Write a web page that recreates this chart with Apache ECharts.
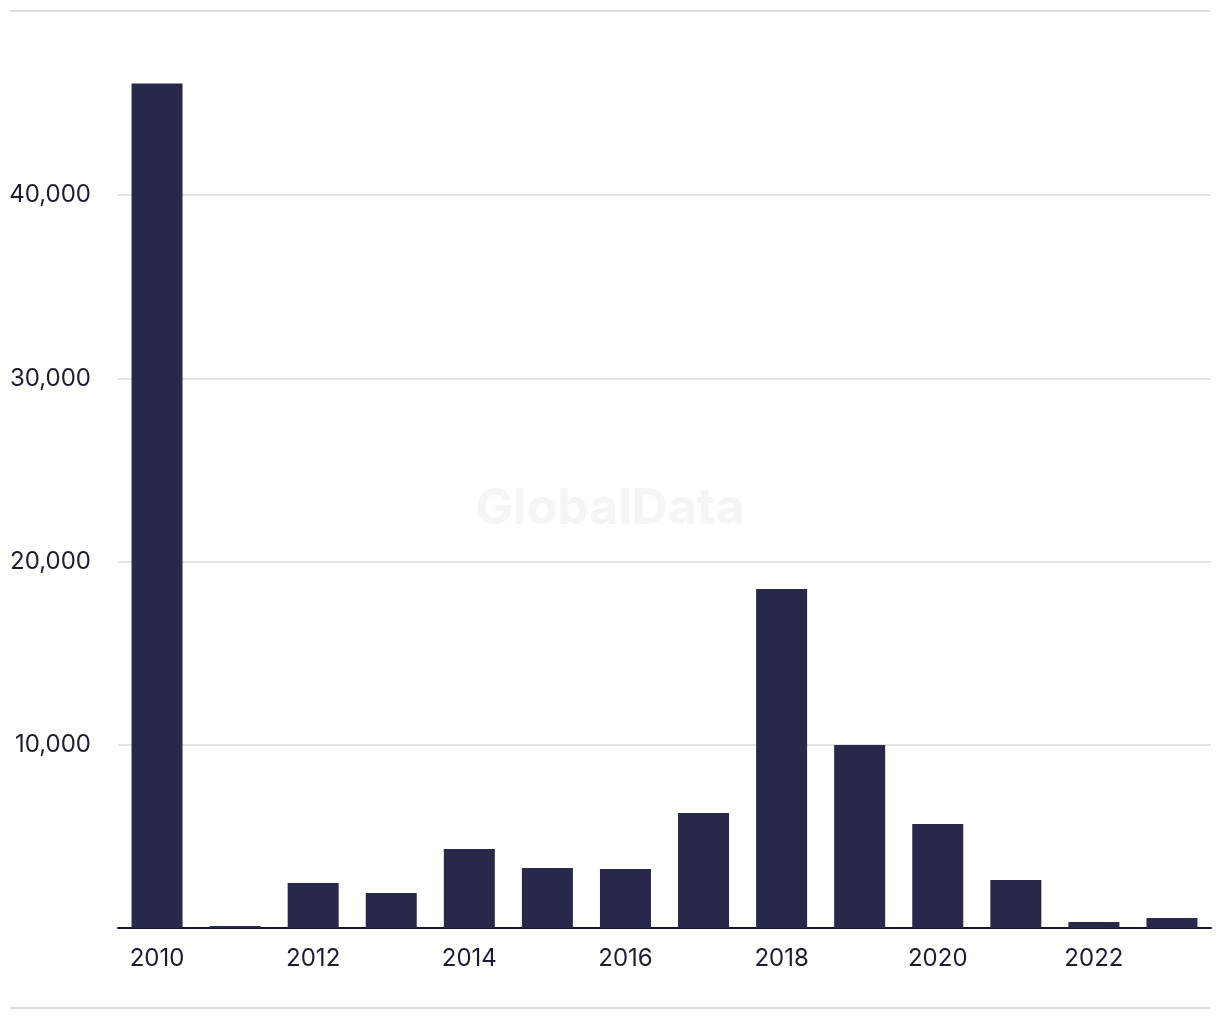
<!DOCTYPE html>
<html>
<head>
<meta charset="utf-8">
<script src="https://cdn.jsdelivr.net/npm/echarts@6/dist/echarts.min.js"></script>
<style>
html,body{margin:0;padding:0;background:#fff;}
#chart{width:1220px;height:1020px;}
</style>
</head>
<body>
<div id="chart"></div>
<script>
const years = ['2010','2011','2012','2013','2014','2015','2016','2017','2018','2019','2020','2021','2022','2023'];
const values = [46100, 110, 2460, 1910, 4310, 3280, 3220, 6280, 18510, 9990, 5680, 2620, 330, 550];
const yTicks = [0, 10000, 20000, 30000, 40000, 50000];

const chart = echarts.init(document.getElementById('chart'));
const textColor = '#1c1c33';
const grid = '#dcdcdc';
chart.setOption({
  animation: false,
  backgroundColor: '#ffffff',
  grid: { left: 118, right: 9, top: 12, bottom: 92, containLabel: false },
  graphic: {
    elements: [
      { type: 'text', id: 'wm', left: 'center', top: 484, z: -1, silent: true,
        style: { text: 'GlobalData', fontFamily: 'Inter', fontWeight: 'bold', fontSize: 50, fill: '#f5f5f5' } },
      { type: 'rect', id: 'bottomRule', z: 100, silent: true, shape: { x: 10, y: 1007, width: 1200, height: 2 }, style: { fill: grid } },
      { type: 'rect', id: 'topRule', z: 100, silent: true, shape: { x: 10, y: 10, width: 1200, height: 2 }, style: { fill: grid } }
    ]
  },
  xAxis: {
    type: 'category',
    data: years,
    axisLine: { show: true, lineStyle: { color: '#16162e', width: 2 } },
    axisTick: { show: false },
    axisLabel: { interval: 1, margin: 19, color: textColor, fontFamily: 'Inter', fontSize: 24 },
    splitLine: { show: false }
  },
  yAxis: {
    type: 'value',
    min: yTicks[0],
    max: yTicks[yTicks.length - 1],
    interval: yTicks[1] - yTicks[0],
    axisLine: { show: false },
    axisTick: { show: false },
    axisLabel: {
      margin: 27, color: textColor, fontFamily: 'Inter', fontSize: 24,
      formatter: function (v) { return (v === 0 || v === 50000) ? '' : v.toLocaleString('en-US'); }
    },
    splitLine: { lineStyle: { color: [grid, grid, grid, grid, grid, 'rgba(0,0,0,0)'], width: 1.5 } }
  },
  series: [{
    type: 'bar',
    data: values,
    barWidth: 51,
    itemStyle: { color: '#28284a' }
  }]
});
</script>
</body>
</html>
